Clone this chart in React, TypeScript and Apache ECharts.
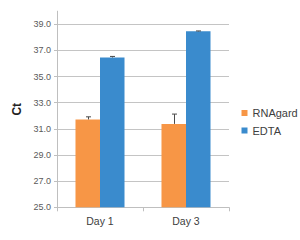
import React, { useEffect, useRef } from "react";
import * as echarts from "echarts";

const categories = ["Day 1", "Day 3"];
const rnagardValues = [31.72, 31.38];
const rnagardErrors = [0.2, 0.75];
const edtaValues = [36.46, 38.46];
const edtaErrors = [0.08, 0.03];
const yTicks = [25, 27, 29, 31, 33, 35, 37, 39];

const GAP = 0.43;

function errorSeries(name: string, values: number[], errors: number[], sign: number) {
  return {
    type: "custom",
    name: name + " err",
    z: 5,
    silent: true,
    data: values.map((v, i) => [i, v, errors[i]]),
    renderItem: (params: any, api: any) => {
      const cat = api.value(0);
      const v = api.value(1);
      const e = api.value(2);
      const band = api.size([1, 0])[0];
      const off = (sign * band * (1 - GAP)) / 4;
      const base = api.coord([cat, v]);
      const top = api.coord([cat, v + e]);
      const x = Math.round(base[0] + off) + 0.5;
      return {
        type: "group",
        children: [
          { type: "line", shape: { x1: x, y1: base[1], x2: x, y2: top[1] }, style: { stroke: "#4a4a4a", lineWidth: 1 } },
          { type: "line", shape: { x1: x - 2.5, y1: top[1], x2: x + 2.5, y2: top[1] }, style: { stroke: "#4a4a4a", lineWidth: 1 } },
        ],
      };
    },
  };
}

export default function App() {
  const ref = useRef<HTMLDivElement>(null);
  useEffect(() => {
    const chart = echarts.init(ref.current!, null, { renderer: "svg" });
    chart.setOption({
      animation: false,
      backgroundColor: "#ffffff",
      textStyle: { fontFamily: "'Liberation Sans', Arial, sans-serif" },
      grid: { left: 57, right: 71, top: 11.2, bottom: 32.7 },
      legend: {
        data: ["RNAgard", "EDTA"],
        orient: "vertical",
        left: 236.5,
        top: 101.5,
        itemWidth: 6,
        itemHeight: 6,
        itemGap: 4.5,
        icon: "rect",
        textStyle: { fontSize: 11, color: "#404040", lineHeight: 13, fontFamily: "'Liberation Sans', Arial, sans-serif" },
      },
      xAxis: {
        type: "category",
        data: categories,
        axisLine: { lineStyle: { color: "#bfbfbf" } },
        axisTick: { show: true, length: 4, lineStyle: { color: "#bfbfbf" } },
        axisLabel: { fontSize: 10.5, color: "#404040", margin: 8, fontFamily: "'Liberation Sans', Arial, sans-serif" },
      },
      yAxis: {
        type: "value",
        min: 25,
        max: 40,
        interval: 2,
        name: "Ct",
        nameLocation: "middle",
        nameGap: 29,
        nameTextStyle: { fontSize: 12, fontWeight: "bold", color: "#222", fontFamily: "'Liberation Sans', Arial, sans-serif" },
        axisLine: { show: true, lineStyle: { color: "#bfbfbf" } },
        axisTick: { show: true, length: 3, customValues: yTicks, lineStyle: { color: "#bfbfbf" } },
        axisLabel: {
          customValues: yTicks,
          fontSize: 9,
          color: "#595959",
          margin: 6,
          fontFamily: "'Liberation Sans', Arial, sans-serif",
          formatter: (v: number) => v.toFixed(1),
        },
        splitLine: { show: true, lineStyle: { color: "#c4c4c4" } },
      },
      series: [
        {
          type: "bar",
          name: "RNAgard",
          data: rnagardValues,
          barGap: "0%",
          barCategoryGap: GAP * 100 + "%",
          itemStyle: { color: "#F79646" },
        },
        {
          type: "bar",
          name: "EDTA",
          data: edtaValues,
          itemStyle: { color: "#3A8BCD" },
        },
        errorSeries("RNAgard", rnagardValues, rnagardErrors, -1),
        errorSeries("EDTA", edtaValues, edtaErrors, 1),
      ],
    });
    return () => chart.dispose();
  }, []);
  return <div ref={ref} style={{ width: 300, height: 240, position: "absolute", left: 0, top: 0 }} />;
}
